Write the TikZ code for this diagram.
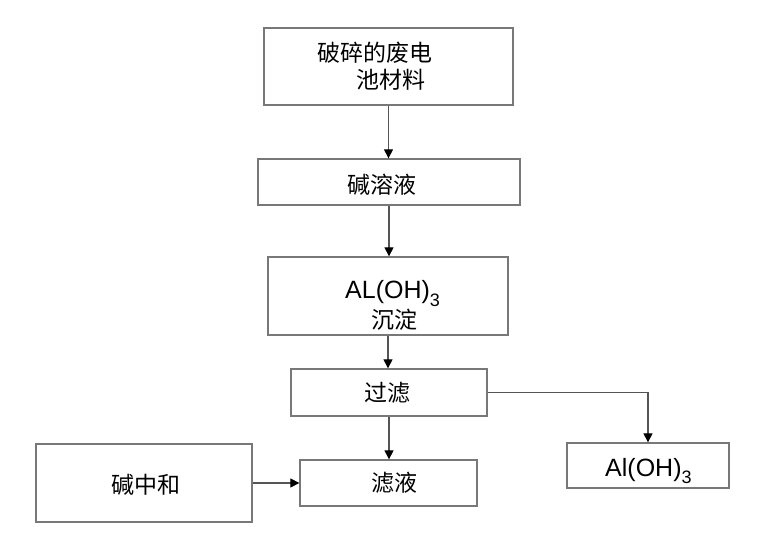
\documentclass[tikz,border=0pt]{standalone}
\usepackage{fontspec}
\setmainfont{Liberation Sans}
\newfontfamily\cjk{Noto Sans CJK SC}
\usetikzlibrary{arrows.meta}
\definecolor{boxgray}{RGB}{120,120,120}
\definecolor{linegray}{RGB}{85,85,85}
\newcommand{\lowsub}[1]{\raisebox{-7.5pt}{\fontsize{18}{18}\selectfont #1}}
\begin{document}
\begin{tikzpicture}[x=1pt,y=-1pt,
  box/.style={draw=boxgray,line width=1.3pt,rectangle,inner sep=0pt},
  zh/.style={font=\cjk\fontsize{23}{27}\selectfont,inner sep=0pt},
  lat/.style={font=\fontsize{25}{28}\selectfont,inner sep=0pt},
  conn/.style={draw=linegray,line width=1.2pt,-{Triangle[length=9pt,width=9pt,fill=black,color=black]}}]
\useasboundingbox (0,0) rectangle (765,534);
% boxes
\node[box,minimum width=249pt,minimum height=77pt] (b1) at (388.5,66.5) {};
\node[box,minimum width=262pt,minimum height=46pt] (b2) at (389,182) {};
\node[box,minimum width=240pt,minimum height=78pt] (b3) at (388,296) {};
\node[box,minimum width=196pt,minimum height=47pt] (b4) at (389,392.5) {};
\node[box,minimum width=177pt,minimum height=46pt] (b5) at (388.5,483) {};
\node[box,minimum width=216pt,minimum height=78pt] (b6) at (144,483) {};
\node[box,minimum width=162pt,minimum height=45pt] (b7) at (648,465.5) {};
% texts
\node[zh,anchor=west] (t1a) at (317,53) {破碎的废电};
\node[zh,anchor=west] (t1b) at (356,80) {池材料};
\node[zh] (t2) at (381.5,185) {碱溶液};
\node[lat,anchor=base west] (t3a) at (345,299) {AL(OH)\lowsub{3}};
\node[zh] (t3b) at (394.5,320) {沉淀};
\node[zh] (t4) at (387.5,393) {过滤};
\node[zh] (t5) at (394,483) {滤液};
\node[zh] (t6) at (145.5,485) {碱中和};
\node[lat,anchor=base west] (t7) at (605,476) {Al(OH)\lowsub{3}};
% connectors
\draw[conn] (b1.south) -- (b1.south |- b2.north);
\draw[conn] (b2.south) -- (b2.south |- b3.north);
\draw[conn] (b3.south) -- (b3.south |- b4.north);
\draw[conn] (b4.south) -- (b4.south |- b5.north);
\draw[conn] (b6.east) -- (b5.west);
\draw[conn] (b4.east) -| (b7.north);
\end{tikzpicture}
\end{document}
